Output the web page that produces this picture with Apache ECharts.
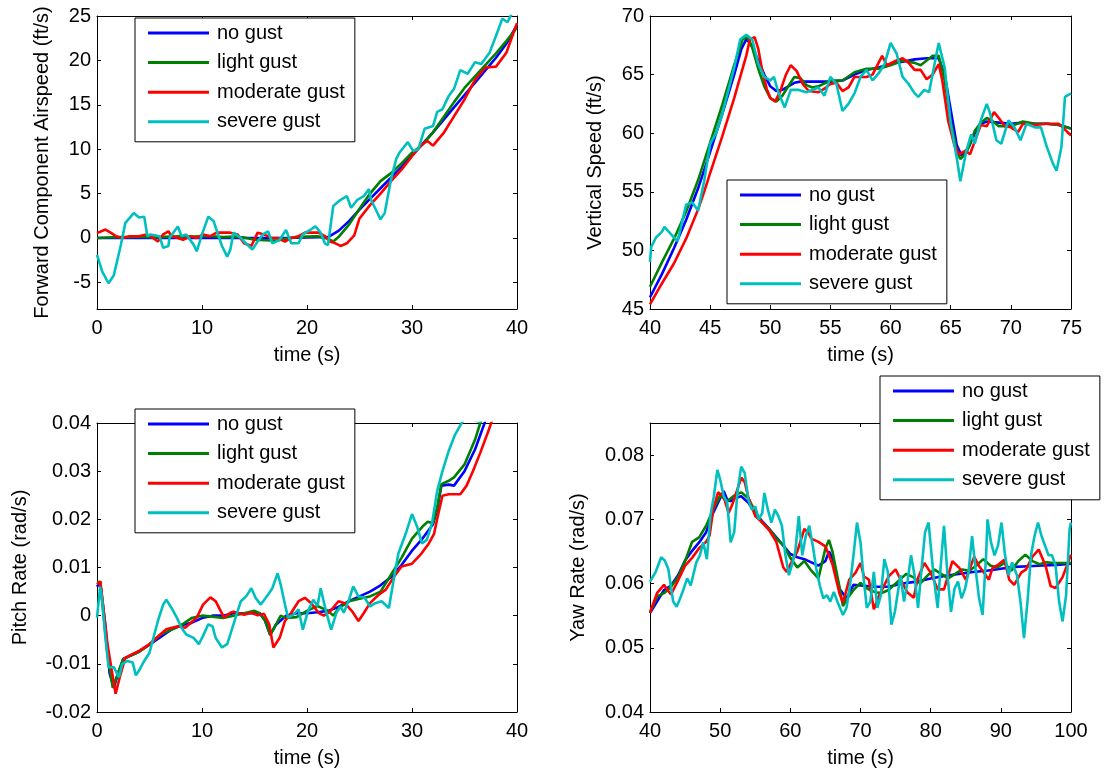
<!DOCTYPE html>
<html><head><meta charset="utf-8">
<script src="https://cdn.jsdelivr.net/npm/echarts@6.0.0/dist/echarts.min.js"></script>
<style>html,body{margin:0;padding:0;background:#fff}#c{width:1106px;height:769px}</style>
</head><body><div id="c"></div><script>
// ---------- series names / colours ----------
const seriesNames = ['no gust', 'light gust', 'moderate gust', 'severe gust'];
const seriesColors = ['#0000ff', '#008000', '#ff0000', '#00bfbf'];

// ---------- Plot 1: Forward Component Airspeed (ft/s) ----------
const fwdNoT = [0,2,4,6,8,10,12,14,16,18,20,21,22,23,24,25,26,27,28,29,30,31,32,33,34,35,36,37,38,39,40];
const fwdNoV = [0,0,0,0,0,0,0,0,0,0,0.05,0.1,0.1,0.8,1.9,3.2,4.4,5.6,6.8,8.0,9.3,10.6,11.9,13.3,14.7,16.1,17.5,18.9,20.3,21.9,24.0];
const fwdLightT = [0,1,2,3,4,5,6,7,8,9,10,11,12,13,14,15,16,17,18,19,20,21,22,22.5,23,24,25,26,27,28,29,30,31,32,33,34,35,36,37,38,39,40];
const fwdLightV = [0,0.05,0.1,0.1,0.15,0.1,0.1,0.15,0.2,0.15,0.2,0.2,0.1,0.15,0.05,-0.2,-0.25,-0.3,-0.1,0.1,0.15,0.2,-0.1,-0.4,0.1,1.5,3.3,5.0,6.4,7.3,8.4,9.6,10.5,11.9,13.6,15.3,16.9,18.2,19.5,20.8,22.2,23.7];
const fwdModT = [0,0.8,1.3,1.8,2.4,3.1,4.0,4.7,5.1,5.8,6.3,6.8,7.1,7.7,8.2,8.9,9.5,10.1,10.8,11.4,12.1,12.7,13.4,14.0,14.7,15.3,15.9,16.6,17.2,17.9,18.5,19.2,19.8,20.4,21.1,21.7,22.2,22.7,23.2,23.8,24.5,25,26,27,28,29,30,31,31.5,32,33,34,35,36,37,38,39,40];
const fwdModV = [0.55,0.95,0.6,0.2,0,0.2,0.2,0.4,0.2,-0.4,0.4,0.75,0.2,0,-0.2,0.2,0,0.4,0.2,0.6,0.6,0.6,0.4,-0.6,-0.9,0.6,0.4,0,0,-0.4,0,0.2,0.6,0.6,0.6,0.2,-0.4,-0.6,-0.9,-0.6,0.3,2.2,3.7,5.0,6.4,7.7,9.2,10.6,10.9,10.4,11.8,13.7,15.6,17.8,19.2,19.3,20.9,24.2];
const fwdSevT = [0,0.5,1.1,1.6,2.25,2.7,3.5,4.0,4.5,4.8,5.1,5.95,6.3,6.8,6.9,7.7,8.05,8.5,9.2,9.5,10.0,10.6,11.1,11.9,12.4,12.7,13.0,13.7,14.0,14.8,15.3,15.8,16.3,16.7,17.4,18.0,18.5,19.2,19.6,20.3,20.8,21.3,21.7,22.0,22.5,23.2,23.8,24.2,24.8,25.4,25.9,26.1,27.0,27.4,28.0,28.5,28.8,29.6,30.1,30.6,31.2,32.0,32.4,32.9,33.5,34.0,34.6,35.3,36.0,36.6,37.4,38.2,38.6,39.1,39.6,40];
const fwdSevV = [-1.9,-3.8,-5.1,-4.2,-0.9,1.7,2.8,2.3,2.4,0.2,0.4,0.2,-1.1,-0.9,0,1.3,0.2,0.4,-0.75,-1.5,0.4,2.4,1.9,-0.9,-2.1,-1.3,0.6,0,-0.4,-1.3,-0.4,0.4,0.75,-0.6,-0.2,0.9,-0.6,-0.6,0.4,0.9,1.3,0.6,-0.6,-0.8,3.6,4.3,4.7,3.4,4.3,4.7,5.5,4.3,2.1,2.8,6.6,8.9,9.6,10.8,9.8,10.0,12.3,12.6,14.2,14.5,16.0,16.8,18.9,18.5,19.8,19.6,20.9,23.4,24.7,24.3,25.5,25.3];

// ---------- Plot 2: Vertical Speed (ft/s) ----------
const vsNoT = [40,41,42,43,44,45,46,47,47.6,48,48.4,49,49.5,50,50.5,51,51.5,52,52.5,53,54,55,56,57,58,59,60,61,62,63,64,64.5,65,65.5,65.9,66.5,67,67.5,68,69,70,71,72,73,74,75];
const vsNoV = [46.0,48.0,50.2,52.6,55.3,58.4,61.6,65.0,67.2,68.0,67.6,66.2,65.0,64.0,63.6,63.7,64.0,64.3,64.4,64.4,64.4,64.4,64.5,65.0,65.4,65.6,65.9,66.1,66.3,66.4,66.4,65.0,62.0,59.0,58.1,58.8,60.0,60.8,61.0,60.9,60.8,60.9,60.8,60.8,60.7,60.4];
const vsLightT = [40,41,42,43,44,45,46,47,47.7,48.1,48.5,49,49.5,50,50.5,51,51.5,52,52.5,53,53.5,54,55,56,57,58,59,60,61,62,62.5,63,63.5,64,64.5,65,65.5,65.8,66.3,67,67.5,68,68.5,69,70,71,72,73,74,75];
const vsLightV = [46.9,49.0,51.0,53.3,56.0,59.2,62.4,65.8,68.0,68.2,67.3,65.5,64.0,63.0,62.7,63.2,64.0,64.8,64.7,64.1,63.9,64.0,64.5,64.5,65.2,65.5,65.5,65.8,66.2,66.0,65.8,66.2,66.6,66.6,64.5,61.0,58.5,57.8,58.3,60.2,60.9,61.3,61.0,60.6,60.6,61.0,60.8,60.8,60.7,60.4];
const vsModT = [40,41,42,43,44,44.5,45,46,47,47.5,48,48.3,48.7,49,49.3,49.7,50,50.4,50.8,51.3,51.7,52.2,52.7,53.2,54,54.5,55,55.5,56,56.5,57,58,58.5,59,59.3,59.7,60.5,61,61.5,62,62.5,63,63.5,64,64.3,64.8,65.3,65.7,66.2,66.6,67,67.5,68,68.6,69,69.5,70,70.6,71,72,73,74,74.5,75];
const vsModV = [45.4,47.2,48.9,51.0,53.5,55.0,56.6,59.7,63.0,64.8,66.6,68.0,68.2,67.2,65.5,63.8,63.0,62.7,63.5,65.0,65.8,65.3,64.2,63.6,63.5,63.8,64.2,64.3,63.6,63.9,64.8,64.8,65.0,66.0,66.6,65.8,66.2,66.4,66.0,65.4,65.4,64.6,65.0,65.9,64.5,61.0,59.0,58.2,58.5,58.2,59.3,60.7,60.6,61.8,61.3,60.6,60.5,60.1,60.8,60.7,60.8,60.8,60.3,59.8];
const vsSevT = [40,40.1,40.5,41,41.2,42,42.3,43,43.5,44,44.5,45,45.5,46,47,47.5,48,48.5,49,49.5,50,50.3,50.7,51.2,51.7,52.3,53,53.5,54,54.5,55,55.5,56,56.5,57,57.5,58,58.5,59,59.5,60,60.5,61,61.5,62,62.3,62.8,63.2,63.6,64,64.5,65,65.5,65.8,66.3,66.7,67,67.5,68,68.3,68.8,69.2,69.8,70.3,70.8,71.3,72,72.5,73,73.5,73.8,74.2,74.5,75];
const vsSevV = [49.0,50.3,51.1,51.6,52.0,51.1,50.8,53.9,54.1,53.4,55.9,59.1,60.0,61.6,65.6,68.0,68.4,68.0,65.9,64.8,64.5,64.8,63.4,62.2,63.7,63.7,63.5,63.7,63.9,63.2,64.8,64.2,61.9,62.5,63.4,64.8,65.4,64.5,65.1,65.9,67.7,66.8,64.8,64.2,63.4,63.1,63.7,63.5,65.6,67.7,65.6,60.8,57.9,55.9,58.5,59.9,59.1,61.1,62.5,61.6,59.4,59.1,61.1,60.5,59.4,60.8,60.5,60.5,58.8,57.4,56.8,58.8,63.1,63.4];

// ---------- Plot 3: Pitch Rate (rad/s) ----------
const prNoT = [0,0.3,0.8,1.2,1.6,2,2.5,3,4,5,6,7,8,9,10,11,12,13,14,15,15.5,16,16.5,17,18,19,20,21,22,23,24,25,26,27,28,29,30,31,32,32.4,32.8,33.5,34,35,36,37,37.5];
const prNoV = [0.006,0.007,-0.002,-0.012,-0.015,-0.012,-0.009,-0.0085,-0.0075,-0.006,-0.0045,-0.003,-0.002,-0.0015,-0.0005,0,0,0.0005,0.0005,0.0005,0.0005,-0.001,-0.004,-0.002,0,0.0005,0.0005,0.0007,0.001,0.0018,0.003,0.004,0.005,0.0063,0.008,0.0105,0.0135,0.016,0.019,0.022,0.027,0.0272,0.027,0.030,0.0345,0.0405,0.043];
const prLightT = [0,0.3,1,1.5,2,2.5,3,4,5,6,7,8,9,10,11,12,13,14,15,15.5,16,16.5,17,17.5,18,19,20,21,22,22.5,23,24,25,26,27,28,29,30,31,31.5,32,32.4,32.8,33.5,34,35,36,36.5,37];
const prLightV = [0.007,0.007,-0.008,-0.015,-0.012,-0.009,-0.0085,-0.0075,-0.006,-0.004,-0.003,-0.002,-0.0005,0,-0.0002,-0.0005,0,0.0005,0.001,0.0005,-0.001,-0.004,-0.002,0,-0.0005,-0.0003,0.001,0.002,0.001,0,0.0015,0.003,0.0035,0.004,0.005,0.0085,0.012,0.016,0.0185,0.0195,0.0192,0.0225,0.0273,0.028,0.0287,0.0314,0.0365,0.040,0.043];
const prModT = [0,0.32,1,1.77,2.2,2.7,4.0,5.0,6.6,7.7,8.4,9.5,10.1,10.8,11.3,12.1,12.7,13,14,14.7,15.3,15.9,16.4,16.8,17.4,17.9,18.5,19.2,19.8,20.4,21.1,21.6,22.2,23.0,23.6,24.3,24.9,25.4,26.0,26.8,27.5,28.2,29.0,30.0,30.9,31.6,32.1,32.5,32.9,33.5,34.6,35.2,35.8,36.5,37.3,38];
const prModV = [0.0065,0.0071,-0.006,-0.0162,-0.0125,-0.0087,-0.0073,-0.0059,-0.0028,-0.0022,-0.0025,-0.0004,0.0023,0.0038,0.003,-0.0004,0.0006,0.0008,0.0002,0.0006,0.0001,0.0004,-0.0018,-0.0066,-0.0046,-0.0011,0.0006,0.003,0.0037,0.0026,0.0006,0,0.0009,0.003,0.0026,0.0009,-0.0011,0.0005,0.0026,0.0043,0.0054,0.0078,0.0102,0.0108,0.0129,0.015,0.017,0.0211,0.0249,0.0252,0.0252,0.027,0.030,0.0338,0.0385,0.043];
const prSevT = [0,0.3,0.5,0.8,1.1,1.6,2.1,2.4,2.9,3.4,3.7,4.0,4.5,5.0,5.3,5.8,6.3,6.6,7.1,7.6,8.05,8.5,9.2,9.7,10.1,10.6,11,11.3,11.9,12.4,12.7,13.2,13.7,14.2,14.7,15.1,15.6,16.3,16.7,17.2,17.5,17.9,18.2,18.7,19.2,19.6,20.1,20.6,21.0,21.3,21.8,22.3,22.8,23.2,23.5,24.0,24.4,24.9,25.5,26.0,26.5,27.1,27.8,28.25,28.7,29.4,30.0,30.5,30.95,31.4,31.9,32.4,32.9,33.5,34.1,35.0,35.5,36.0,36.5,37.0];
const prSevV = [-0.0004,0.006,0.003,-0.0046,-0.0107,-0.0107,-0.0128,-0.01,-0.0094,-0.0097,-0.0124,-0.0114,-0.0094,-0.0077,-0.0052,-0.0011,0.0023,0.0033,0.0016,-0.0004,-0.0025,-0.0039,-0.0046,-0.0059,-0.0042,-0.0018,-0.0022,-0.0046,-0.0066,-0.0059,-0.0039,-0.0004,0.003,0.004,0.0057,0.0037,0.0023,0.0044,0.0057,0.0088,0.0064,0.0023,-0.0004,0.0002,0.0013,-0.0029,0.001,0.0033,0.002,0.0057,0.001,-0.0029,0.0006,0.0019,0.0006,0.0033,0.0061,0.004,0.0037,0.0019,0.0026,0.003,0.0016,0.0074,0.0129,0.017,0.0211,0.0184,0.015,0.0157,0.0191,0.0259,0.030,0.0342,0.0376,0.041,0.0415,0.0405,0.0402,0.042];

// ---------- Plot 4: Yaw Rate (rad/s) ----------
const yrNoT = [40,41,42,43,44,45,46,47,48,49,50,50.5,51,51.5,52,53,54,55,56,57,58,59,60,61,62,63,64,65,65.5,66,67,68,69,70,72,74,76,78,80,82,84,86,88,90,92,94,96,98,100];
const yrNoV = [0.0554,0.0572,0.059,0.0597,0.0613,0.0636,0.0651,0.0664,0.068,0.071,0.0733,0.0744,0.0731,0.0728,0.0733,0.0736,0.0726,0.071,0.0697,0.0685,0.0672,0.0659,0.0646,0.0641,0.0638,0.0633,0.0628,0.0635,0.065,0.064,0.0592,0.0577,0.0598,0.0597,0.0595,0.0595,0.06,0.0603,0.0608,0.0612,0.0615,0.0618,0.062,0.0623,0.0626,0.0627,0.0628,0.0629,0.0631];
const yrLightT = [40,41,42,43,44,45,46,47,48,49,50,51,52,53,54,55,56,57,58,59,60,61,62,63,64,65,65.5,66,67,67.5,68,69,70,71,72,73,74,75.5,76.5,77.5,78.5,79.5,80.5,81.5,82.5,83.5,84.5,85.5,86.5,87.5,88.5,89.5,90.5,91.5,92.5,93.5,94.5,95.5,96.5,97.5,98.5,100];
const yrLightV = [0.0555,0.058,0.0585,0.0595,0.061,0.0635,0.0665,0.0672,0.069,0.0715,0.0737,0.0728,0.0737,0.0742,0.0733,0.0712,0.0695,0.0685,0.067,0.066,0.064,0.0625,0.0635,0.062,0.0608,0.0655,0.0668,0.065,0.0595,0.0565,0.0575,0.059,0.0601,0.0592,0.0587,0.0585,0.059,0.0605,0.0615,0.061,0.06,0.0612,0.0622,0.0615,0.0608,0.0615,0.0622,0.062,0.0628,0.0638,0.0628,0.0625,0.0632,0.062,0.0635,0.0645,0.0635,0.063,0.0633,0.0632,0.0632,0.0632];
const yrModT = [40,41,42,42.5,43,44,45,46,47,48,48.5,49,49.7,50.5,51.2,51.8,52.5,53,53.5,54,55,56,57,58,59,59.5,60,61,62,62.5,63,64,65,66,67,67.5,68.4,69.3,70.0,70.5,71.2,71.9,72.6,74.0,75.0,75.5,76.7,77.6,78.1,79.1,80.0,81.0,81.9,83.1,84.1,85.0,86.2,86.9,87.6,88.3,88.8,89.7,90.5,91.2,91.9,92.9,93.6,94.5,95.4,96.4,97.1,97.8,98.8,100];
const yrModV = [0.0555,0.0585,0.0598,0.059,0.0583,0.0605,0.0628,0.064,0.0655,0.0665,0.0675,0.0715,0.0742,0.0735,0.071,0.0725,0.0748,0.0765,0.0758,0.0735,0.0705,0.0695,0.0683,0.0665,0.0625,0.0618,0.063,0.065,0.0685,0.068,0.067,0.0665,0.0658,0.063,0.0585,0.057,0.0606,0.0617,0.0632,0.0611,0.0606,0.056,0.058,0.0611,0.0622,0.0611,0.0586,0.0578,0.0606,0.0632,0.0617,0.0591,0.0591,0.0635,0.0624,0.0606,0.0642,0.0627,0.0617,0.0606,0.0624,0.063,0.0637,0.0606,0.0598,0.0617,0.0622,0.0642,0.0653,0.0627,0.0596,0.0593,0.061,0.0645];
const yrSevT = [40,40.8,41.6,42.1,42.6,43.3,43.8,44.3,44.8,45.3,45.8,46.6,47.1,47.6,48.1,48.6,49.1,49.6,50.0,50.5,51.0,51.5,52.0,52.5,53.0,53.5,54.0,54.5,55.0,55.5,56.0,56.3,56.8,57.3,57.8,58.3,58.8,59.3,59.8,60.2,60.7,61.2,61.7,62.2,62.7,63.2,63.7,64.2,64.7,65.2,65.7,66.2,66.7,67.5,68.0,68.5,69.0,69.5,70.0,70.4,70.9,71.4,71.9,72.4,72.9,73.4,73.9,74.4,74.9,75.7,76.2,76.7,77.2,77.7,78.2,78.7,79.2,79.7,80.4,81.0,81.4,81.9,82.4,82.9,83.4,83.9,84.4,84.9,85.4,85.9,86.4,86.9,87.4,87.9,88.1,88.6,89.1,89.6,90.1,90.6,91.1,91.6,92.3,92.8,93.3,93.8,94.3,94.8,95.3,95.8,96.3,96.8,97.3,97.8,98.3,98.8,99.3,99.8,100];
const yrSevV = [0.0603,0.0618,0.0641,0.0636,0.0623,0.0572,0.0564,0.0577,0.0592,0.0608,0.0597,0.0633,0.0644,0.0664,0.0638,0.0705,0.0736,0.0777,0.0762,0.0736,0.0726,0.0664,0.068,0.0746,0.0782,0.0772,0.0731,0.0715,0.072,0.07,0.071,0.0741,0.0715,0.0695,0.0715,0.0705,0.069,0.0644,0.0613,0.0628,0.0649,0.0705,0.0644,0.0674,0.069,0.0659,0.0623,0.0597,0.0577,0.0582,0.0572,0.0587,0.0572,0.0551,0.0562,0.0597,0.0644,0.0695,0.0664,0.0613,0.0562,0.0572,0.0618,0.0562,0.0582,0.0638,0.0618,0.0536,0.0556,0.0613,0.0572,0.0603,0.0644,0.0613,0.0562,0.0623,0.068,0.0695,0.0613,0.0562,0.0623,0.069,0.0613,0.0556,0.0592,0.0603,0.0577,0.0592,0.0618,0.0674,0.0623,0.0577,0.0551,0.0644,0.07,0.0664,0.0644,0.0659,0.0695,0.0644,0.0613,0.0633,0.0613,0.0572,0.0515,0.0572,0.0644,0.0674,0.0695,0.0674,0.0659,0.0644,0.0644,0.0628,0.0572,0.0541,0.0582,0.0685,0.0695];

// ---------- axis tick labels ----------
const fwdYTicks = [-5, 0, 5, 10, 15, 20, 25];
const prYTicks = [-0.02, -0.01, 0, 0.01, 0.02, 0.03, 0.04];
const yrYTicks = [0.04, 0.05, 0.06, 0.07, 0.08];

const FONT = "'Liberation Sans', Arial, Helvetica, sans-serif";
const BLACK = '#000';

const panels = [
  { grid: { left: 97, top: 16, width: 420, height: 293 }, x: [0, 40, 10], y: [-8, 25], yTicks: fwdYTicks,
    yName: 'Forward Component Airspeed (ft/s)', yGap: 45, legend: { left: 135, top: 18 },
    data: [[fwdNoT, fwdNoV], [fwdLightT, fwdLightV], [fwdModT, fwdModV], [fwdSevT, fwdSevV]] },
  { grid: { left: 650, top: 16, width: 421, height: 293 }, x: [40, 75, 5], y: [45, 70], yTicks: [45, 50, 55, 60, 65, 70],
    yName: 'Vertical Speed (ft/s)', yGap: 45, legend: { left: 727, top: 180 },
    data: [[vsNoT, vsNoV], [vsLightT, vsLightV], [vsModT, vsModV], [vsSevT, vsSevV]] },
  { grid: { left: 97, top: 423, width: 420, height: 293 }, x: [0, 40, 10], y: [-0.02, 0.04], yTicks: prYTicks,
    yName: 'Pitch Rate (rad/s)', yGap: 67, legend: { left: 135, top: 409 },
    data: [[prNoT, prNoV], [prLightT, prLightV], [prModT, prModV], [prSevT, prSevV]] },
  { grid: { left: 650, top: 423, width: 421, height: 293 }, x: [40, 100, 10], y: [0.04, 0.085], yTicks: yrYTicks,
    yName: 'Yaw Rate (rad/s)', yGap: 62, legend: { left: 880, top: 376 },
    data: [[yrNoT, yrNoV], [yrLightT, yrLightV], [yrModT, yrModV], [yrSevT, yrSevV]] }
];

const fmt = v => String(parseFloat(Number(v).toFixed(4)));
const lineAxis = { show: true, onZero: false, lineStyle: { color: BLACK, width: 1 } };
const tick = extra => Object.assign({ show: true, inside: true, length: 4, lineStyle: { color: BLACK, width: 1 } }, extra || {});
const labelStyle = { color: BLACK, fontSize: 20, fontFamily: FONT };

const option = { animation: false, backgroundColor: '#fff', grid: [], xAxis: [], yAxis: [], legend: [], series: [] };

panels.forEach((p, g) => {
  option.grid.push(Object.assign({ containLabel: false }, p.grid));
  const xBase = { type: 'value', gridIndex: g, min: p.x[0], max: p.x[1], interval: p.x[2], splitLine: { show: false }, axisLine: lineAxis };
  option.xAxis.push(Object.assign({}, xBase, {
    position: 'bottom', name: 'time (s)', nameLocation: 'middle', nameGap: 36,
    nameTextStyle: labelStyle, axisTick: tick(), axisLabel: Object.assign({ margin: 9, formatter: fmt }, labelStyle)
  }));
  option.xAxis.push(Object.assign({}, xBase, { position: 'top', axisTick: tick(), axisLabel: { show: false } }));
  const yBase = { type: 'value', gridIndex: g, min: p.y[0], max: p.y[1], splitLine: { show: false }, axisLine: lineAxis };
  option.yAxis.push(Object.assign({}, yBase, {
    position: 'left', name: p.yName, nameLocation: 'middle', nameGap: p.yGap, nameTextStyle: labelStyle,
    axisTick: tick({ customValues: p.yTicks }),
    axisLabel: Object.assign({ margin: 6, customValues: p.yTicks, formatter: fmt }, labelStyle)
  }));
  option.yAxis.push(Object.assign({}, yBase, { position: 'right', axisTick: tick({ customValues: p.yTicks }), axisLabel: { show: false } }));
  option.legend.push({
    data: seriesNames.slice(), orient: 'vertical', left: p.legend.left, top: p.legend.top,
    padding: [5, 10, 10, 13], itemGap: 9.6, itemWidth: 61, itemHeight: 3, icon: 'rect',
    selectedMode: false, backgroundColor: '#fff', borderColor: BLACK, borderWidth: 1, borderRadius: 0,
    textStyle: { color: BLACK, fontSize: 20, fontFamily: FONT, lineHeight: 20, padding: [0, 0, 0, 3] }
  });
  p.data.forEach((d, k) => {
    option.series.push({
      name: seriesNames[k], type: 'line', xAxisIndex: 2 * g, yAxisIndex: 2 * g,
      data: d[0].map((t, i) => [t, d[1][i]]), showSymbol: false, symbol: 'none', clip: true,
      color: seriesColors[k], lineStyle: { color: seriesColors[k], width: 2.6 }, z: 2 + k
    });
  });
});

const chart = echarts.init(document.getElementById('c'), null, { renderer: 'canvas' });
chart.setOption(option);
</script></body></html>
